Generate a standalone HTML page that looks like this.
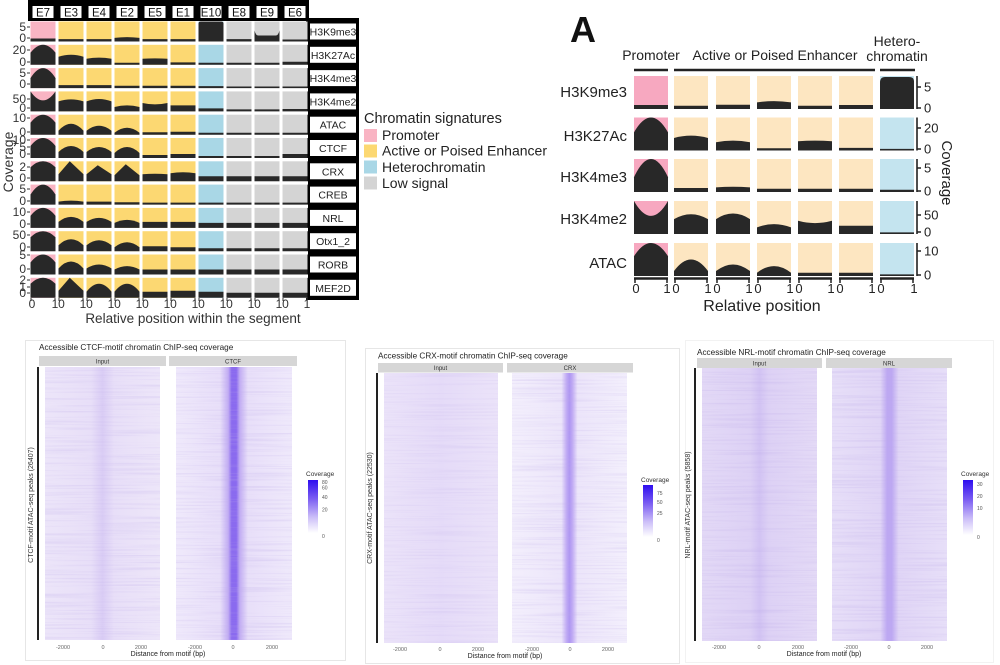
<!DOCTYPE html>
<html><head><meta charset="utf-8"><style>
html,body{margin:0;padding:0;background:#fff;}
svg{display:block;}
text{font-family:"Liberation Sans",Arial,sans-serif;}
</style></head><body>
<svg width="1000" height="665" viewBox="0 0 1000 665" xmlns="http://www.w3.org/2000/svg">
<defs>
<linearGradient id="ctcfIn" x1="0" x2="1" y1="0" y2="0"><stop offset="0" stop-color="#ece5f9"/><stop offset="0.4" stop-color="#e8dff8"/><stop offset="0.5" stop-color="#dacdf5"/><stop offset="0.6" stop-color="#e8dff8"/><stop offset="1" stop-color="#ede6f9"/></linearGradient>
<linearGradient id="ctcfCh" x1="0" x2="1" y1="0" y2="0"><stop offset="0" stop-color="#efe9fb"/><stop offset="0.38" stop-color="#e8dff9"/><stop offset="0.45" stop-color="#c2adf3"/><stop offset="0.48" stop-color="#8a6aef"/><stop offset="0.52" stop-color="#8a6aef"/><stop offset="0.55" stop-color="#c2adf3"/><stop offset="0.62" stop-color="#e8dff9"/><stop offset="1" stop-color="#efe9fb"/></linearGradient>
<linearGradient id="crxIn" x1="0" x2="1" y1="0" y2="0"><stop offset="0" stop-color="#ebe3f9"/><stop offset="0.5" stop-color="#e5dbf8"/><stop offset="1" stop-color="#ebe3f9"/></linearGradient>
<linearGradient id="crxCh" x1="0" x2="1" y1="0" y2="0"><stop offset="0" stop-color="#f3effc"/><stop offset="0.43" stop-color="#ece5fa"/><stop offset="0.475" stop-color="#c0aaf4"/><stop offset="0.5" stop-color="#ae96f2"/><stop offset="0.525" stop-color="#c0aaf4"/><stop offset="0.57" stop-color="#ece5fa"/><stop offset="1" stop-color="#f3effc"/></linearGradient>
<linearGradient id="nrlIn" x1="0" x2="1" y1="0" y2="0"><stop offset="0" stop-color="#e3d9f6"/><stop offset="0.42" stop-color="#ddd1f5"/><stop offset="0.5" stop-color="#d2c3f3"/><stop offset="0.58" stop-color="#ddd1f5"/><stop offset="1" stop-color="#e4daf6"/></linearGradient>
<linearGradient id="nrlCh" x1="0" x2="1" y1="0" y2="0"><stop offset="0" stop-color="#e7dff8"/><stop offset="0.42" stop-color="#e0d5f6"/><stop offset="0.48" stop-color="#bda8f2"/><stop offset="0.52" stop-color="#bda8f2"/><stop offset="0.58" stop-color="#e0d5f6"/><stop offset="1" stop-color="#e7dff8"/></linearGradient>
<linearGradient id="cbar" x1="0" x2="0" y1="0" y2="1"><stop offset="0" stop-color="#2e0eef"/><stop offset="0.35" stop-color="#7a5cf2"/><stop offset="0.7" stop-color="#cbbdf8"/><stop offset="1" stop-color="#ffffff"/></linearGradient>
<filter id="nz" x="0" y="0" width="100%" height="100%">
<feTurbulence type="fractalNoise" baseFrequency="0.01 0.6" numOctaves="2" seed="7" result="t"/>
<feColorMatrix in="t" type="matrix" values="0 0 0 0 0.5  0 0 0 0 0.4  0 0 0 0 0.8  0 0 0 -2.5 1.35"/>
</filter>
</defs>

<!-- ================= LEFT TOP PANEL ================= -->
<rect x="28" y="0" width="281" height="21" fill="#000"/>
<g fill="#fff">
<rect x="32.5" y="6" width="21" height="12"/><rect x="60.5" y="6" width="21" height="12"/><rect x="88.5" y="6" width="21" height="12"/><rect x="116.5" y="6" width="21" height="12"/><rect x="144.5" y="6" width="21" height="12"/><rect x="172.5" y="6" width="21" height="12"/><rect x="200.5" y="6" width="21" height="12"/><rect x="228.5" y="6" width="21" height="12"/><rect x="256.5" y="6" width="21" height="12"/><rect x="284.5" y="6" width="21" height="12"/>
</g>
<g font-size="11.5" fill="#111" text-anchor="middle">
<text x="43" y="16.5">E7</text><text x="71" y="16.5">E3</text><text x="99" y="16.5">E4</text><text x="127" y="16.5">E2</text><text x="155" y="16.5">E5</text><text x="183" y="16.5">E1</text><text x="211" y="16.5">E10</text><text x="239" y="16.5">E8</text><text x="267" y="16.5">E9</text><text x="295" y="16.5">E6</text>
</g>
<rect x="306" y="18" width="53" height="282" fill="#000"/>
<g fill="#fff">
<rect x="310" y="23.5" width="46" height="16"/><rect x="310" y="46.8" width="46" height="16"/><rect x="310" y="70.1" width="46" height="16"/><rect x="310" y="93.4" width="46" height="16"/><rect x="310" y="116.7" width="46" height="16"/><rect x="310" y="140" width="46" height="16"/><rect x="310" y="163.3" width="46" height="16"/><rect x="310" y="186.6" width="46" height="16"/><rect x="310" y="209.9" width="46" height="16"/><rect x="310" y="233.2" width="46" height="16"/><rect x="310" y="256.5" width="46" height="16"/><rect x="310" y="279.8" width="46" height="16"/>
</g>
<g font-size="10.5" fill="#222" text-anchor="middle">
<text x="333" y="35.5">H3K9me3</text><text x="333" y="58.8">H3K27Ac</text><text x="333" y="82.1">H3K4me3</text><text x="333" y="105.4">H3K4me2</text><text x="333" y="128.7">ATAC</text><text x="333" y="152">CTCF</text><text x="333" y="175.3">CRX</text><text x="333" y="198.6">CREB</text><text x="333" y="221.9">NRL</text><text x="333" y="245.2">Otx1_2</text><text x="333" y="268.5">RORB</text><text x="333" y="291.8">MEF2D</text>
</g>
<rect x="30.5" y="21.5" width="25" height="276.3" fill="#f9b4c3"/>
<g fill="#fcd872">
<rect x="58.5" y="21.5" width="25" height="276.3"/><rect x="86.5" y="21.5" width="25" height="276.3"/><rect x="114.5" y="21.5" width="25" height="276.3"/><rect x="142.5" y="21.5" width="25" height="276.3"/><rect x="170.5" y="21.5" width="25" height="276.3"/>
</g>
<rect x="198.5" y="21.5" width="25" height="276.3" fill="#a9d7e6"/>
<g fill="#d4d4d4">
<rect x="226.5" y="21.5" width="25" height="276.3"/><rect x="254.5" y="21.5" width="25" height="276.3"/><rect x="282.5" y="21.5" width="25" height="276.3"/>
</g>
<g fill="#fff">
<rect x="29" y="41.5" width="279" height="3.3"/><rect x="29" y="64.8" width="279" height="3.3"/><rect x="29" y="88.1" width="279" height="3.3"/><rect x="29" y="111.4" width="279" height="3.3"/><rect x="29" y="134.7" width="279" height="3.3"/><rect x="29" y="158" width="279" height="3.3"/><rect x="29" y="181.3" width="279" height="3.3"/><rect x="29" y="204.6" width="279" height="3.3"/><rect x="29" y="227.9" width="279" height="3.3"/><rect x="29" y="251.2" width="279" height="3.3"/><rect x="29" y="274.5" width="279" height="3.3"/>
</g>
<g fill="#282828">
<g transform="translate(0,21.5)">
<path transform="translate(30.5,0) scale(25,20)" d="M0 1V.85H1V1Z"/>
<path transform="translate(58.5,0) scale(25,20)" d="M0 1V.88H1V1Z"/>
<path transform="translate(86.5,0) scale(25,20)" d="M0 1V.88H1V1Z"/>
<path transform="translate(114.5,0) scale(25,20)" d="M0 1V.82Q.5 .74 1 .82V1Z"/>
<path transform="translate(142.5,0) scale(25,20)" d="M0 1V.88H1V1Z"/>
<path transform="translate(170.5,0) scale(25,20)" d="M0 1V.88H1V1Z"/>
<path transform="translate(198.5,0) scale(25,20)" d="M0 1V.1Q0 0 .1 0H.9Q1 0 1 .1V1Z"/>
<path transform="translate(226.5,0) scale(25,20)" d="M0 1V.88H1V1Z"/>
<path transform="translate(254.5,0) scale(25,20)" d="M0 1V.45Q.05 .7 .15 .7H.85Q.95 .7 1 .45V1Z"/>
<path transform="translate(282.5,0) scale(25,20)" d="M0 1V.9H1V1Z"/>
</g>
<g transform="translate(0,44.8)">
<path transform="translate(30.5,0) scale(25,20)" d="M0 1V.4Q.5 -.4 1 .4V1Z"/>
<path transform="translate(58.5,0) scale(25,20)" d="M0 1V.6Q.5 .4 1 .6V1Z"/>
<path transform="translate(86.5,0) scale(25,20)" d="M0 1V.7Q.5 .58 1 .7V1Z"/>
<path transform="translate(114.5,0) scale(25,20)" d="M0 1V.9H1V1Z"/>
<path transform="translate(142.5,0) scale(25,20)" d="M0 1V.7Q.5 .66 1 .7V1Z"/>
<path transform="translate(170.5,0) scale(25,20)" d="M0 1V.88H1V1Z"/>
<path transform="translate(198.5,0) scale(25,20)" d="M0 1V.9H1V1Z"/>
<path transform="translate(226.5,0) scale(25,20)" d="M0 1V.9H1V1Z"/>
<path transform="translate(254.5,0) scale(25,20)" d="M0 1V.9H1V1Z"/>
<path transform="translate(282.5,0) scale(25,20)" d="M0 1V.85H1V1Z"/>
</g>
<g transform="translate(0,68.1)">
<path transform="translate(30.5,0) scale(25,20)" d="M0 1V.5Q.5 -.5 1 .5V1Z"/>
<path transform="translate(58.5,0) scale(25,20)" d="M0 1V.85H1V1Z"/>
<path transform="translate(86.5,0) scale(25,20)" d="M0 1V.85H1V1Z"/>
<path transform="translate(114.5,0) scale(25,20)" d="M0 1V.88H1V1Z"/>
<path transform="translate(142.5,0) scale(25,20)" d="M0 1V.88H1V1Z"/>
<path transform="translate(170.5,0) scale(25,20)" d="M0 1V.88H1V1Z"/>
<path transform="translate(198.5,0) scale(25,20)" d="M0 1V.9H1V1Z"/>
<path transform="translate(226.5,0) scale(25,20)" d="M0 1V.92H1V1Z"/>
<path transform="translate(254.5,0) scale(25,20)" d="M0 1V.92H1V1Z"/>
<path transform="translate(282.5,0) scale(25,20)" d="M0 1V.92H1V1Z"/>
</g>
<g transform="translate(0,91.4)">
<path transform="translate(30.5,0) scale(25,20)" d="M0 1V0Q.5 .9 1 0V1Z"/>
<path transform="translate(58.5,0) scale(25,20)" d="M0 1V.5Q.5 .3 1 .5V1Z"/>
<path transform="translate(86.5,0) scale(25,20)" d="M0 1V.5Q.5 .26 1 .5V1Z"/>
<path transform="translate(114.5,0) scale(25,20)" d="M0 1V.78Q.5 .62 1 .78V1Z"/>
<path transform="translate(142.5,0) scale(25,20)" d="M0 1V.58Q.5 .72 1 .58V1Z"/>
<path transform="translate(170.5,0) scale(25,20)" d="M0 1V.7H1V1Z"/>
<path transform="translate(198.5,0) scale(25,20)" d="M0 1V.85H1V1Z"/>
<path transform="translate(226.5,0) scale(25,20)" d="M0 1V.9H1V1Z"/>
<path transform="translate(254.5,0) scale(25,20)" d="M0 1V.9H1V1Z"/>
<path transform="translate(282.5,0) scale(25,20)" d="M0 1V.88H1V1Z"/>
</g>
<g transform="translate(0,114.7)">
<path transform="translate(30.5,0) scale(25,20)" d="M0 1V.4Q.5 -.4 1 .4V1Z"/>
<path transform="translate(58.5,0) scale(25,20)" d="M0 1V.8Q.5 .1 1 .8V1Z"/>
<path transform="translate(86.5,0) scale(25,20)" d="M0 1V.8Q.5 .3 1 .8V1Z"/>
<path transform="translate(114.5,0) scale(25,20)" d="M0 1V.9Q.5 .4 1 .9V1Z"/>
<path transform="translate(142.5,0) scale(25,20)" d="M0 1V.88H1V1Z"/>
<path transform="translate(170.5,0) scale(25,20)" d="M0 1V.85H1V1Z"/>
<path transform="translate(198.5,0) scale(25,20)" d="M0 1V.9H1V1Z"/>
<path transform="translate(226.5,0) scale(25,20)" d="M0 1V.9H1V1Z"/>
<path transform="translate(254.5,0) scale(25,20)" d="M0 1V.9H1V1Z"/>
<path transform="translate(282.5,0) scale(25,20)" d="M0 1V.9H1V1Z"/>
</g>
<g transform="translate(0,138)">
<path transform="translate(30.5,0) scale(25,20)" d="M0 1V.4Q.5 -.4 1 .4V1Z"/>
<path transform="translate(58.5,0) scale(25,20)" d="M0 1V.7Q.5 .1 1 .7V1Z"/>
<path transform="translate(86.5,0) scale(25,20)" d="M0 1V.7Q.5 .2 1 .7V1Z"/>
<path transform="translate(114.5,0) scale(25,20)" d="M0 1V.75Q.5 .15 1 .75V1Z"/>
<path transform="translate(142.5,0) scale(25,20)" d="M0 1V.85H1V1Z"/>
<path transform="translate(170.5,0) scale(25,20)" d="M0 1V.8H1V1Z"/>
<path transform="translate(198.5,0) scale(25,20)" d="M0 1V.9H1V1Z"/>
<path transform="translate(226.5,0) scale(25,20)" d="M0 1V.9H1V1Z"/>
<path transform="translate(254.5,0) scale(25,20)" d="M0 1V.9H1V1Z"/>
<path transform="translate(282.5,0) scale(25,20)" d="M0 1V.8H1V1Z"/>
</g>
<g transform="translate(0,161.3)">
<path transform="translate(30.5,0) scale(25,20)" d="M0 1V.3Q.5 -.3 1 .3V1Z"/>
<path transform="translate(58.5,0) scale(25,20)" d="M0 1V.65L.45 0L1 .65V1Z"/>
<path transform="translate(86.5,0) scale(25,20)" d="M0 1V.65L.45 .2L1 .65V1Z"/>
<path transform="translate(114.5,0) scale(25,20)" d="M0 1V.7L.45 .15L1 .7V1Z"/>
<path transform="translate(142.5,0) scale(25,20)" d="M0 1V.65Q.5 .59 1 .65V1Z"/>
<path transform="translate(170.5,0) scale(25,20)" d="M0 1V.6Q.5 .5 1 .6V1Z"/>
<path transform="translate(198.5,0) scale(25,20)" d="M0 1V.75H1V1Z"/>
<path transform="translate(226.5,0) scale(25,20)" d="M0 1V.75H1V1Z"/>
<path transform="translate(254.5,0) scale(25,20)" d="M0 1V.75H1V1Z"/>
<path transform="translate(282.5,0) scale(25,20)" d="M0 1V.75H1V1Z"/>
</g>
<g transform="translate(0,184.6)">
<path transform="translate(30.5,0) scale(25,20)" d="M0 1V.5Q.5 -.5 1 .5V1Z"/>
<path transform="translate(58.5,0) scale(25,20)" d="M0 1V.85Q.5 .75 1 .85V1Z"/>
<path transform="translate(86.5,0) scale(25,20)" d="M0 1V.85H1V1Z"/>
<path transform="translate(114.5,0) scale(25,20)" d="M0 1V.88H1V1Z"/>
<path transform="translate(142.5,0) scale(25,20)" d="M0 1V.9H1V1Z"/>
<path transform="translate(170.5,0) scale(25,20)" d="M0 1V.9H1V1Z"/>
<path transform="translate(198.5,0) scale(25,20)" d="M0 1V.9H1V1Z"/>
<path transform="translate(226.5,0) scale(25,20)" d="M0 1V.9H1V1Z"/>
<path transform="translate(254.5,0) scale(25,20)" d="M0 1V.9H1V1Z"/>
<path transform="translate(282.5,0) scale(25,20)" d="M0 1V.9H1V1Z"/>
</g>
<g transform="translate(0,207.9)">
<path transform="translate(30.5,0) scale(25,20)" d="M0 1V.4Q.5 -.4 1 .4V1Z"/>
<path transform="translate(58.5,0) scale(25,20)" d="M0 1V.7Q.5 .2 1 .7V1Z"/>
<path transform="translate(86.5,0) scale(25,20)" d="M0 1V.7Q.5 .3 1 .7V1Z"/>
<path transform="translate(114.5,0) scale(25,20)" d="M0 1V.75Q.5 .45 1 .75V1Z"/>
<path transform="translate(142.5,0) scale(25,20)" d="M0 1V.7H1V1Z"/>
<path transform="translate(170.5,0) scale(25,20)" d="M0 1V.7H1V1Z"/>
<path transform="translate(198.5,0) scale(25,20)" d="M0 1V.75H1V1Z"/>
<path transform="translate(226.5,0) scale(25,20)" d="M0 1V.75H1V1Z"/>
<path transform="translate(254.5,0) scale(25,20)" d="M0 1V.75H1V1Z"/>
<path transform="translate(282.5,0) scale(25,20)" d="M0 1V.75H1V1Z"/>
</g>
<g transform="translate(0,231.2)">
<path transform="translate(30.5,0) scale(25,20)" d="M0 1V.3Q.5 -.3 1 .3V1Z"/>
<path transform="translate(58.5,0) scale(25,20)" d="M0 1V.7Q.5 .1 1 .7V1Z"/>
<path transform="translate(86.5,0) scale(25,20)" d="M0 1V.7Q.5 .2 1 .7V1Z"/>
<path transform="translate(114.5,0) scale(25,20)" d="M0 1V.8Q.5 .3 1 .8V1Z"/>
<path transform="translate(142.5,0) scale(25,20)" d="M0 1V.75H1V1Z"/>
<path transform="translate(170.5,0) scale(25,20)" d="M0 1V.8H1V1Z"/>
<path transform="translate(198.5,0) scale(25,20)" d="M0 1V.85H1V1Z"/>
<path transform="translate(226.5,0) scale(25,20)" d="M0 1V.85H1V1Z"/>
<path transform="translate(254.5,0) scale(25,20)" d="M0 1V.85H1V1Z"/>
<path transform="translate(282.5,0) scale(25,20)" d="M0 1V.85H1V1Z"/>
</g>
<g transform="translate(0,254.5)">
<path transform="translate(30.5,0) scale(25,20)" d="M0 1V.4Q.5 -.4 1 .4V1Z"/>
<path transform="translate(58.5,0) scale(25,20)" d="M0 1V.7Q.5 0 1 .7V1Z"/>
<path transform="translate(86.5,0) scale(25,20)" d="M0 1V.7Q.5 .3 1 .7V1Z"/>
<path transform="translate(114.5,0) scale(25,20)" d="M0 1V.75Q.5 .41 1 .75V1Z"/>
<path transform="translate(142.5,0) scale(25,20)" d="M0 1V.75H1V1Z"/>
<path transform="translate(170.5,0) scale(25,20)" d="M0 1V.75H1V1Z"/>
<path transform="translate(198.5,0) scale(25,20)" d="M0 1V.75H1V1Z"/>
<path transform="translate(226.5,0) scale(25,20)" d="M0 1V.75H1V1Z"/>
<path transform="translate(254.5,0) scale(25,20)" d="M0 1V.75H1V1Z"/>
<path transform="translate(282.5,0) scale(25,20)" d="M0 1V.75H1V1Z"/>
</g>
<g transform="translate(0,277.8)">
<path transform="translate(30.5,0) scale(25,20)" d="M0 1V.3Q.5 -.3 1 .3V1Z"/>
<path transform="translate(58.5,0) scale(25,20)" d="M0 1V.65L.45 0L1 .65V1Z"/>
<path transform="translate(86.5,0) scale(25,20)" d="M0 1V.7Q.5 -.1 1 .7V1Z"/>
<path transform="translate(114.5,0) scale(25,20)" d="M0 1V.7Q.5 -.1 1 .7V1Z"/>
<path transform="translate(142.5,0) scale(25,20)" d="M0 1V.7H1V1Z"/>
<path transform="translate(170.5,0) scale(25,20)" d="M0 1V.65H1V1Z"/>
<path transform="translate(198.5,0) scale(25,20)" d="M0 1V.7H1V1Z"/>
<path transform="translate(226.5,0) scale(25,20)" d="M0 1V.75H1V1Z"/>
<path transform="translate(254.5,0) scale(25,20)" d="M0 1V.75H1V1Z"/>
<path transform="translate(282.5,0) scale(25,20)" d="M0 1V.75H1V1Z"/>
</g>
</g>
<g stroke="#333" stroke-width="1">
<path d="M27 27H30M27 38H30M27 50H30M27 62H30M27 73H30M27 84H30M27 99H30M27 108H30M27 118H30M27 132H30M27 140H30M27 147H30M27 154H30M27 167H30M27 178H30M27 189H30M27 201H30M27 212H30M27 224H30M27 235H30M27 247H30M27 255H30M27 269H30M27 280H30M27 287H30M27 293H30"/>
</g>
<g font-size="12" fill="#333" text-anchor="end">
<text x="26" y="31">5</text><text x="26" y="42">0</text>
<text x="26" y="54">20</text><text x="26" y="66">0</text>
<text x="26" y="77">5</text><text x="26" y="88">0</text>
<text x="26" y="103">50</text><text x="26" y="112">0</text>
<text x="26" y="122">10</text><text x="26" y="136">0</text>
<text x="26" y="144">10</text><text x="26" y="151">5</text><text x="26" y="158">0</text>
<text x="26" y="171">2</text><text x="26" y="182">0</text>
<text x="26" y="193">5</text><text x="26" y="205">0</text>
<text x="26" y="216">10</text><text x="26" y="228">0</text>
<text x="26" y="239">50</text><text x="26" y="251">0</text>
<text x="26" y="259">5</text><text x="26" y="273">0</text>
<text x="26" y="284">2</text><text x="26" y="291">1</text><text x="26" y="297">0</text>
</g>
<text transform="translate(13,162) rotate(-90)" font-size="14" fill="#333" text-anchor="middle">Coverage</text>
<g stroke="#333" stroke-width="1">
<path d="M31 298V301M55 298V301M59 298V301M83 298V301M87 298V301M111 298V301M115 298V301M139 298V301M143 298V301M167 298V301M171 298V301M195 298V301M199 298V301M223 298V301M227 298V301M251 298V301M255 298V301M279 298V301M283 298V301M307 298V301"/>
</g>
<g font-size="12" fill="#333" text-anchor="middle">
<text x="32" y="308">0</text>
<text x="55" y="308">1</text><text x="61.5" y="308">0</text>
<text x="83" y="308">1</text><text x="89.5" y="308">0</text>
<text x="111" y="308">1</text><text x="117.5" y="308">0</text>
<text x="139" y="308">1</text><text x="145.5" y="308">0</text>
<text x="167" y="308">1</text><text x="173.5" y="308">0</text>
<text x="195" y="308">1</text><text x="201.5" y="308">0</text>
<text x="223" y="308">1</text><text x="229.5" y="308">0</text>
<text x="251" y="308">1</text><text x="257.5" y="308">0</text>
<text x="279" y="308">1</text><text x="285.5" y="308">0</text>
<text x="307" y="308">1</text>
</g>
<text x="193" y="323" font-size="13.5" fill="#333" text-anchor="middle">Relative position within the segment</text>
<text x="364" y="123" font-size="14.5" fill="#222">Chromatin signatures</text>
<rect x="364" y="129" width="13" height="13" fill="#f9b4c3"/>
<rect x="364" y="144.5" width="13" height="13" fill="#fcd872"/>
<rect x="364" y="160.5" width="13" height="13" fill="#a9d7e6"/>
<rect x="364" y="176.5" width="13" height="13" fill="#d4d4d4"/>
<g font-size="14" fill="#222">
<text x="382" y="140">Promoter</text>
<text x="382" y="155.5">Active or Poised Enhancer</text>
<text x="382" y="172">Heterochromatin</text>
<text x="382" y="188">Low signal</text>
</g>

<!-- ================= RIGHT TOP PANEL (A) ================= -->
<text x="570" y="42" font-size="36" font-weight="bold" fill="#111">A</text>
<g font-size="14" fill="#222" text-anchor="middle">
<text x="651" y="60">Promoter</text>
<text x="775" y="60">Active or Poised Enhancer</text>
<text x="897" y="46">Hetero-</text>
<text x="897" y="61">chromatin</text>
</g>
<g stroke="#222" stroke-width="2.5">
<path d="M634 70H668M674 70H875M880 70H915"/>
</g>
<g>
<rect x="634" y="76" width="34" height="33" fill="#f7a8c0"/><rect x="634" y="117.5" width="34" height="33" fill="#f7a8c0"/><rect x="634" y="159" width="34" height="33" fill="#f7a8c0"/><rect x="634" y="201" width="34" height="33" fill="#f7a8c0"/><rect x="634" y="243" width="34" height="33" fill="#f7a8c0"/>
</g>
<g fill="#fde6c1">
<rect x="674" y="76" width="34" height="33"/><rect x="716" y="76" width="34" height="33"/><rect x="757" y="76" width="34" height="33"/><rect x="798" y="76" width="34" height="33"/><rect x="839" y="76" width="34" height="33"/>
<rect x="674" y="117.5" width="34" height="33"/><rect x="716" y="117.5" width="34" height="33"/><rect x="757" y="117.5" width="34" height="33"/><rect x="798" y="117.5" width="34" height="33"/><rect x="839" y="117.5" width="34" height="33"/>
<rect x="674" y="159" width="34" height="33"/><rect x="716" y="159" width="34" height="33"/><rect x="757" y="159" width="34" height="33"/><rect x="798" y="159" width="34" height="33"/><rect x="839" y="159" width="34" height="33"/>
<rect x="674" y="201" width="34" height="33"/><rect x="716" y="201" width="34" height="33"/><rect x="757" y="201" width="34" height="33"/><rect x="798" y="201" width="34" height="33"/><rect x="839" y="201" width="34" height="33"/>
<rect x="674" y="243" width="34" height="33"/><rect x="716" y="243" width="34" height="33"/><rect x="757" y="243" width="34" height="33"/><rect x="798" y="243" width="34" height="33"/><rect x="839" y="243" width="34" height="33"/>
</g>
<g fill="#c4e4ef">
<rect x="880" y="76" width="34" height="33"/><rect x="880" y="117.5" width="34" height="33"/><rect x="880" y="159" width="34" height="33"/><rect x="880" y="201" width="34" height="33"/><rect x="880" y="243" width="34" height="33"/>
</g>
<g fill="#282828">
<g transform="translate(0,76)">
<path transform="translate(634,0) scale(34,33)" d="M0 1V.88H1V1Z"/>
<path transform="translate(674,0) scale(34,33)" d="M0 1V.9H1V1Z"/>
<path transform="translate(716,0) scale(34,33)" d="M0 1V.87H1V1Z"/>
<path transform="translate(757,0) scale(34,33)" d="M0 1V.8Q.5 .72 1 .8V1Z"/>
<path transform="translate(798,0) scale(34,33)" d="M0 1V.9H1V1Z"/>
<path transform="translate(839,0) scale(34,33)" d="M0 1V.88H1V1Z"/>
<path transform="translate(880,0) scale(34,33)" d="M0 1V.2Q0 .03 .15 .03H.85Q1 .03 1 .15V1Z"/>
</g>
<g transform="translate(0,117.5)">
<path transform="translate(634,0) scale(34,33)" d="M0 1V.45Q.5 -.45 1 .45V1Z"/>
<path transform="translate(674,0) scale(34,33)" d="M0 1V.62Q.5 .48 1 .62V1Z"/>
<path transform="translate(716,0) scale(34,33)" d="M0 1V.75Q.5 .65 1 .75V1Z"/>
<path transform="translate(757,0) scale(34,33)" d="M0 1V.93H1V1Z"/>
<path transform="translate(798,0) scale(34,33)" d="M0 1V.72Q.5 .68 1 .72V1Z"/>
<path transform="translate(839,0) scale(34,33)" d="M0 1V.92H1V1Z"/>
<path transform="translate(880,0) scale(34,33)" d="M0 1V.95H1V1Z"/>
</g>
<g transform="translate(0,159)">
<path transform="translate(634,0) scale(34,33)" d="M0 1V.55Q.5 -.55 1 .55V1Z"/>
<path transform="translate(674,0) scale(34,33)" d="M0 1V.88H1V1Z"/>
<path transform="translate(716,0) scale(34,33)" d="M0 1V.86Q.5 .82 1 .86V1Z"/>
<path transform="translate(757,0) scale(34,33)" d="M0 1V.9H1V1Z"/>
<path transform="translate(798,0) scale(34,33)" d="M0 1V.9H1V1Z"/>
<path transform="translate(839,0) scale(34,33)" d="M0 1V.9H1V1Z"/>
<path transform="translate(880,0) scale(34,33)" d="M0 1V.93H1V1Z"/>
</g>
<g transform="translate(0,201)">
<path transform="translate(634,0) scale(34,33)" d="M0 1V0Q.5 .9 1 0V1Z"/>
<path transform="translate(674,0) scale(34,33)" d="M0 1V.55Q.5 .25 1 .55V1Z"/>
<path transform="translate(716,0) scale(34,33)" d="M0 1V.55Q.5 .21 1 .55V1Z"/>
<path transform="translate(757,0) scale(34,33)" d="M0 1V.8Q.5 .6 1 .8V1Z"/>
<path transform="translate(798,0) scale(34,33)" d="M0 1V.6Q.5 .74 1 .6V1Z"/>
<path transform="translate(839,0) scale(34,33)" d="M0 1V.75H1V1Z"/>
<path transform="translate(880,0) scale(34,33)" d="M0 1V.95H1V1Z"/>
</g>
<g transform="translate(0,243)">
<path transform="translate(634,0) scale(34,33)" d="M0 1V.4Q.5 -.4 1 .4V1Z"/>
<path transform="translate(674,0) scale(34,33)" d="M0 1V.85Q.5 .15 1 .85V1Z"/>
<path transform="translate(716,0) scale(34,33)" d="M0 1V.85Q.5 .45 1 .85V1Z"/>
<path transform="translate(757,0) scale(34,33)" d="M0 1V.9Q.5 .5 1 .9V1Z"/>
<path transform="translate(798,0) scale(34,33)" d="M0 1V.9H1V1Z"/>
<path transform="translate(839,0) scale(34,33)" d="M0 1V.9H1V1Z"/>
<path transform="translate(880,0) scale(34,33)" d="M0 1V.95H1V1Z"/>
</g>
</g>
<g font-size="15" fill="#222" text-anchor="end">
<text x="627" y="97">H3K9me3</text>
<text x="627" y="141">H3K27Ac</text>
<text x="627" y="182">H3K4me3</text>
<text x="627" y="224">H3K4me2</text>
<text x="627" y="268">ATAC</text>
</g>
<g stroke="#222" stroke-width="1.6">
<path d="M917 76V109M917 117.5V150.5M917 159V192M917 201V234M917 243V276"/>
<path d="M917 87H921M917 108H921M917 128H921M917 149H921M917 168H921M917 191H921M917 215H921M917 232H921M917 251H921M917 275H921"/>
</g>
<g font-size="13" fill="#222">
<text x="924" y="91.5">5</text><text x="924" y="112.5">0</text>
<text x="924" y="132.5">20</text><text x="924" y="153.5">0</text>
<text x="924" y="172.5">5</text><text x="924" y="195.5">0</text>
<text x="924" y="219.5">50</text><text x="924" y="236.5">0</text>
<text x="924" y="255.5">10</text><text x="924" y="279.5">0</text>
</g>
<text transform="translate(942,173) rotate(90)" font-size="15" fill="#222" text-anchor="middle">Coverage</text>
<g stroke="#222" stroke-width="2.5">
<path d="M634 278.5H668M674 278.5H708M716 278.5H750M757 278.5H791M798 278.5H832M839 278.5H873M880 278.5H914"/>
</g>
<g stroke="#222" stroke-width="1.5">
<path d="M635 278V283M667 278V283M675 278V283M707 278V283M717 278V283M749 278V283M758 278V283M790 278V283M799 278V283M831 278V283M840 278V283M872 278V283M881 278V283M913 278V283"/>
</g>
<g font-size="13" fill="#222" text-anchor="middle">
<text x="636" y="293">0</text>
<text x="667" y="293">1</text><text x="676" y="293">0</text>
<text x="708" y="293">1</text><text x="717" y="293">0</text>
<text x="749" y="293">1</text><text x="758" y="293">0</text>
<text x="790" y="293">1</text><text x="799" y="293">0</text>
<text x="831" y="293">1</text><text x="840" y="293">0</text>
<text x="872" y="293">1</text><text x="881" y="293">0</text>
<text x="914" y="293">1</text>
</g>
<text x="762" y="311" font-size="16" fill="#222" text-anchor="middle">Relative position</text>

<!-- ================= CTCF HEATMAP ================= -->
<rect x="25.5" y="340.5" width="320" height="320" fill="#fff" stroke="#e6e6e6"/>
<text x="39" y="350" font-size="8.2" fill="#222">Accessible CTCF-motif chromatin ChIP-seq coverage</text>
<rect x="39" y="356" width="127" height="10" fill="#d6d6d6"/>
<rect x="169" y="356" width="128" height="10" fill="#d6d6d6"/>
<g font-size="6" fill="#333" text-anchor="middle"><text x="102.5" y="363.3">Input</text><text x="233" y="363.3">CTCF</text></g>
<rect x="45" y="367" width="115" height="273" fill="url(#ctcfIn)"/>
<rect x="176" y="367" width="116" height="273" fill="url(#ctcfCh)"/>
<rect x="45" y="367" width="115" height="273" filter="url(#nz)" opacity="0.28"/>
<rect x="176" y="367" width="116" height="273" filter="url(#nz)" opacity="0.28"/>
<rect x="37" y="367" width="2" height="273" fill="#222"/>
<text transform="translate(33,505) rotate(-90)" font-size="7" fill="#333" text-anchor="middle">CTCF-motif ATAC-seq peaks (26407)</text>
<g font-size="5.5" fill="#666" text-anchor="middle">
<text x="63" y="649">-2000</text><text x="103" y="649">0</text><text x="141" y="649">2000</text>
<text x="195" y="649">-2000</text><text x="233" y="649">0</text><text x="272" y="649">2000</text>
</g>
<text x="168" y="656" font-size="7" fill="#222" text-anchor="middle">Distance from motif (bp)</text>
<text x="306" y="476" font-size="6.5" fill="#333">Coverage</text>
<rect x="308" y="480" width="10" height="53" fill="url(#cbar)"/>
<g font-size="5" fill="#555">
<text x="322" y="484">80</text><text x="322" y="489.5">60</text><text x="322" y="499">40</text><text x="322" y="511.5">20</text><text x="322" y="538">0</text>
</g>

<!-- ================= CRX HEATMAP ================= -->
<rect x="365.5" y="348.5" width="314" height="315" fill="#fff" stroke="#e6e6e6"/>
<text x="378" y="358.5" font-size="8.2" fill="#222">Accessible CRX-motif chromatin ChIP-seq coverage</text>
<rect x="378" y="363" width="125" height="9.5" fill="#d6d6d6"/>
<rect x="507" y="363" width="126" height="9.5" fill="#d6d6d6"/>
<g font-size="6" fill="#333" text-anchor="middle"><text x="440.5" y="370">Input</text><text x="570" y="370">CRX</text></g>
<rect x="384" y="373" width="114" height="270" fill="url(#crxIn)"/>
<rect x="512" y="373" width="115" height="270" fill="url(#crxCh)"/>
<rect x="384" y="373" width="114" height="270" filter="url(#nz)" opacity="0.2"/>
<rect x="512" y="373" width="115" height="270" filter="url(#nz)" opacity="0.25"/>
<rect x="376" y="373" width="2" height="270" fill="#222"/>
<text transform="translate(372,508) rotate(-90)" font-size="7" fill="#333" text-anchor="middle">CRX-motif ATAC-seq peaks (22530)</text>
<g font-size="5.5" fill="#666" text-anchor="middle">
<text x="400" y="651">-2000</text><text x="440" y="651">0</text><text x="478" y="651">2000</text>
<text x="532" y="651">-2000</text><text x="570" y="651">0</text><text x="608" y="651">2000</text>
</g>
<text x="505" y="658" font-size="7" fill="#222" text-anchor="middle">Distance from motif (bp)</text>
<text x="641" y="482" font-size="6.5" fill="#333">Coverage</text>
<rect x="643" y="485" width="10" height="52" fill="url(#cbar)"/>
<g font-size="5" fill="#555">
<text x="657" y="495">75</text><text x="657" y="504">50</text><text x="657" y="515">25</text><text x="657" y="542">0</text>
</g>

<!-- ================= NRL HEATMAP ================= -->
<rect x="685.5" y="340.5" width="308" height="322" fill="#fff" stroke="#f2f2f2"/>
<text x="697" y="355" font-size="8.2" fill="#222">Accessible NRL-motif chromatin ChIP-seq coverage</text>
<rect x="697" y="358" width="125" height="10" fill="#d6d6d6"/>
<rect x="826" y="358" width="126" height="10" fill="#d6d6d6"/>
<g font-size="6" fill="#333" text-anchor="middle"><text x="759.5" y="365.3">Input</text><text x="889" y="365.3">NRL</text></g>
<rect x="702" y="368" width="115" height="273" fill="url(#nrlIn)"/>
<rect x="832" y="368" width="115" height="273" fill="url(#nrlCh)"/>
<rect x="702" y="368" width="115" height="273" filter="url(#nz)" opacity="0.28"/>
<rect x="832" y="368" width="115" height="273" filter="url(#nz)" opacity="0.28"/>
<rect x="694" y="368" width="2" height="273" fill="#222"/>
<text transform="translate(690,505) rotate(-90)" font-size="7" fill="#333" text-anchor="middle">NRL-motif ATAC-seq peaks (5858)</text>
<g font-size="5.5" fill="#666" text-anchor="middle">
<text x="719" y="649">-2000</text><text x="759" y="649">0</text><text x="798" y="649">2000</text>
<text x="851" y="649">-2000</text><text x="889" y="649">0</text><text x="927" y="649">2000</text>
</g>
<text x="824" y="656" font-size="7" fill="#222" text-anchor="middle">Distance from motif (bp)</text>
<text x="961" y="476" font-size="6.5" fill="#333">Coverage</text>
<rect x="963" y="480" width="10" height="55" fill="url(#cbar)"/>
<g font-size="5" fill="#555">
<text x="977" y="486">30</text><text x="977" y="498">20</text><text x="977" y="510">10</text><text x="977" y="539">0</text>
</g>
</svg>
</body></html>
